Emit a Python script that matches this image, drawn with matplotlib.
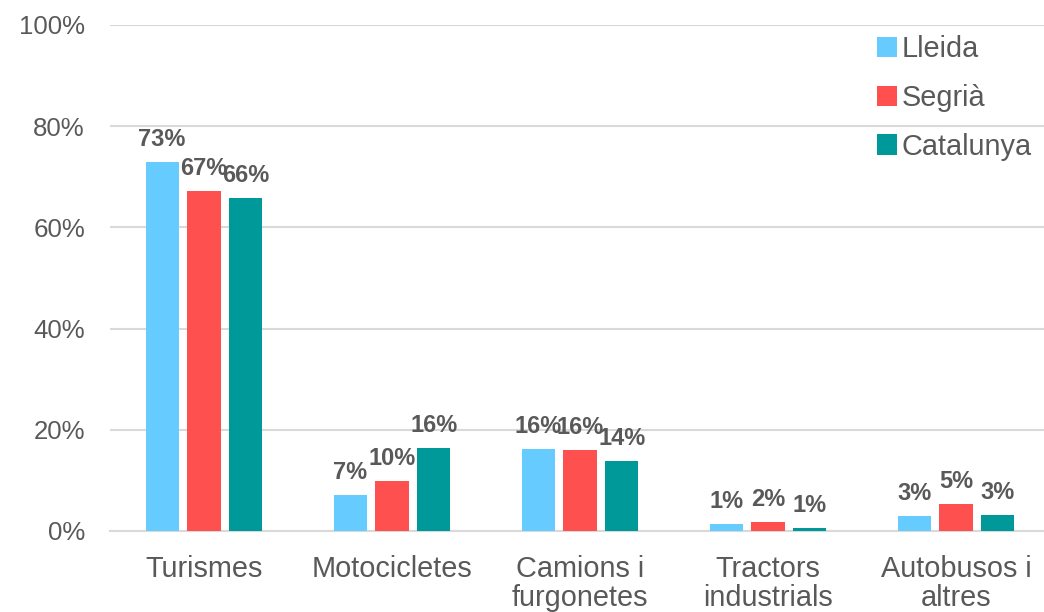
import numpy as np
import matplotlib.pyplot as plt

plt.rcParams['font.family'] = ['Liberation Sans', 'DejaVu Sans']

# dades (percentatges llegits del gràfic)
categories = ['Turismes', 'Motocicletes', 'Camions i\nfurgonetes', 'Tractors\nindustrials', 'Autobusos i\naltres']
lleida = [72.9, 7.1, 16.2, 1.4, 3.0]
segria = [67.1, 9.9, 16.0, 1.8, 5.4]
catalunya = [65.9, 16.4, 13.9, 0.6, 3.2]
series_names = ['Lleida', 'Segrià', 'Catalunya']
colors = ['#66CCFF', '#FF5050', '#009999']

txt = '#595959'
grid_c = '#D9D9D9'

fig = plt.figure(figsize=(10.44, 6.12), dpi=100)
ax = fig.add_axes([110/1044, 81/612, 940/1044, 506/612])

x = np.arange(len(categories))
w = 0.176
step = 0.223

for i, (vals, name, c) in enumerate(zip([lleida, segria, catalunya], series_names, colors)):
    pos = x + (i - 1) * step
    bars = ax.bar(pos, vals, width=w, color=c, label=name, zorder=3)
    for xb, v in zip(pos, vals):
        ax.annotate(f'{v:.0f}%', (xb, v), xytext=(0, 16), textcoords='offset pixels',
                    ha='center', va='baseline', fontsize=17, fontweight='bold', color=txt, zorder=4)

ax.set_xlim(-0.5, 4.5)
ax.set_ylim(0, 100)
ax.set_yticks(np.arange(0, 101, 20))
ax.set_yticklabels([f'{v}%' for v in range(0, 101, 20)])
ax.set_xticks(x)
ax.set_xticklabels(categories, linespacing=1.08)
ax.yaxis.grid(True, color=grid_c, linewidth=1.5, zorder=0)
ax.set_axisbelow(True)

for s in ['top', 'right', 'left']:
    ax.spines[s].set_visible(False)
ax.spines['bottom'].set_color(grid_c)
ax.spines['bottom'].set_linewidth(1.5)

ax.tick_params(axis='y', length=0, pad=18, labelsize=18.6, labelcolor=txt)
ax.tick_params(axis='x', length=0, pad=17, labelsize=20.8, labelcolor=txt)

leg = ax.legend(loc='upper left', bbox_to_anchor=(877/1044, 1 - 35/612),
                bbox_transform=fig.transFigure, frameon=False, fontsize=20.8,
                handlelength=0.7, handleheight=0.7, handletextpad=0.15,
                labelspacing=0.72, borderpad=0, borderaxespad=0)
for t in leg.get_texts():
    t.set_color(txt)

fig.savefig('out.png', dpi=100)
